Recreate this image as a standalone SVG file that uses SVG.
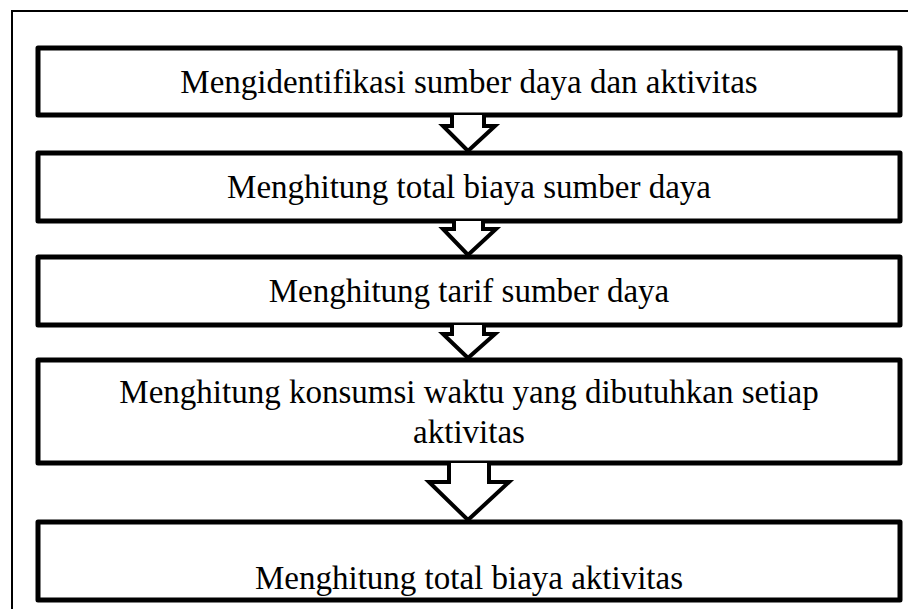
<svg xmlns="http://www.w3.org/2000/svg" width="908" height="609" viewBox="0 0 908 609">
<style>
.box{fill:#fff;stroke:#000;stroke-width:5;stroke-linejoin:round}
.arr{fill:#fff;stroke:#000;stroke-width:4;stroke-linejoin:miter}
text{font-family:"Liberation Serif","Times New Roman",serif;font-size:33px;fill:#000;text-anchor:middle}
</style>
<rect width="908" height="609" fill="#fff"/>
<path d="M12,620 V11 H920" fill="none" stroke="#000" stroke-width="2"/>
<g id="n1"><rect class="box" x="38" y="48" width="862" height="67"/><text x="469" y="93">Mengidentifikasi sumber daya dan aktivitas</text></g>
<g id="n2"><rect class="box" x="38" y="153" width="862" height="68"/><text x="469" y="198">Menghitung total biaya sumber daya</text></g>
<g id="n3"><rect class="box" x="38" y="257" width="862" height="68"/><text x="469" y="302">Menghitung tarif sumber daya</text></g>
<g id="n4"><rect class="box" x="38" y="360" width="862" height="103"/><text x="469" y="403">Menghitung konsumsi waktu yang dibutuhkan setiap</text><text x="469" y="443">aktivitas</text></g>
<g id="n5"><rect class="box" x="38" y="522" width="862" height="78"/><text x="469" y="589">Menghitung total biaya aktivitas</text></g>
<g id="connectors">
<path class="arr" d="M452,115 V126 H443 L468,151 L495,126 H484 V115"/>
<path class="arr" d="M454,221 V229 H443 L468,255 L496,229 H483 V221"/>
<path class="arr" d="M452,325 V334 H443 L468,358 L495,334 H484 V325"/>
<path class="arr" d="M449,463 V482 H429 L468,520 L509,482 H489 V463"/>
</g>
</svg>
